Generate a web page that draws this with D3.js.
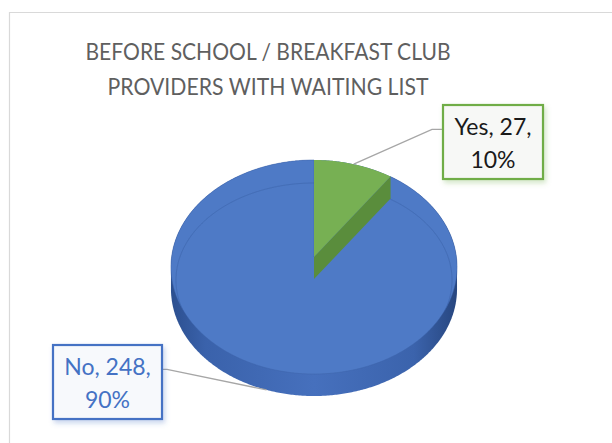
<!DOCTYPE html>
<html><head><meta charset="utf-8">
<script src="https://cdn.jsdelivr.net/npm/d3@7"></script>
<style>html,body{margin:0;padding:0;background:#fff;} svg{display:block;}</style>
</head><body><svg id="chart" width="612" height="443"></svg>
<script>
const categories = ["Yes", "No"];
const values = [27, 248];
const titleLines = ["BEFORE SCHOOL / BREAKFAST CLUB", "PROVIDERS WITH WAITING LIST"];

const W = 612, H = 443;
const FONT = "Lato, 'Open Sans', sans-serif";
const svg = d3.select("#chart");
const defs = svg.append("defs");

// chart area border (left + top visible)
svg.append("path").attr("d", "M9.5,443 V12.5 H612")
  .attr("fill", "none").attr("stroke", "#d9d9d9").attr("stroke-width", 1.2);

// title
const titleWidths = [365, 321];
svg.append("g").selectAll("text").data(titleLines).join("text")
  .attr("x", 268).attr("y", (d, i) => 60 + i * 35)
  .attr("text-anchor", "middle")
  .attr("font-family", FONT).attr("font-weight", 400)
  .attr("font-size", 23).attr("fill", "#5f5f5f")
  .attr("textLength", (d, i) => titleWidths[i]).attr("lengthAdjust", "spacingAndGlyphs")
  .text(d => d);

// perspective projection of the pie disk
const cx = 314, R = 142.4, y0 = 257, pb = -82.05, pc = 0.0935, depth = 22;
function proj(theta, r, dz = 0) {
  const X = r * Math.sin(theta), Z = r * Math.cos(theta);
  const den = 1 + pc * Z;
  return [cx + R * X / den, (y0 + pb * Z) / den + dz];
}
function arcPoints(a0, a1, r, dz) {
  const n = Math.max(2, Math.ceil((a1 - a0) / 0.01));
  return d3.range(n + 1).map(i => proj(a0 + (a1 - a0) * i / n, r, dz));
}
const line = d3.line();

const pie = d3.pie().sort(null).value(d => d).startAngle(0).endAngle(2 * Math.PI);
const arcs = pie(values);
const total = d3.sum(values);
const pct = d3.format(".0%");

const topColor = d3.scaleOrdinal().domain(categories).range(["#77b053", "#4e7ac6"]);
const sideColor = d3.scaleOrdinal().domain(categories).range(["#5a8d3c", "#3e66b0"]);
const labelColor = d3.scaleOrdinal().domain(categories).range(["#1a1a1a", "#4472c4"]);
const borderColor = d3.scaleOrdinal().domain(categories).range(["#70ad47", "#4472c4"]);

// wall gradient
const wg = defs.append("linearGradient").attr("id", "wallGrad")
  .attr("x1", "0%").attr("x2", "100%").attr("y1", "0%").attr("y2", "0%");
[[0, "#2c4f8f"], [0.12, "#3a62ab"], [0.5, "#4670bd"], [0.85, "#3b63ac"], [1, "#27467f"]]
  .forEach(([o, c]) => wg.append("stop").attr("offset", o).attr("stop-color", c));

// wall = hull of top and bottom ellipses
const hull = d3.polygonHull(arcPoints(0, 2 * Math.PI, 1, 0).concat(arcPoints(0, 2 * Math.PI, 1, depth)));
svg.append("path").attr("d", "M" + hull.join("L") + "Z").attr("fill", "url(#wallGrad)");

// top faces
function facePath(a) {
  const pts = [proj(0, 0, 0)].concat(arcPoints(a.startAngle, a.endAngle, 1, 0));
  return line(pts) + "Z";
}
const yesArc = arcs[0], noArc = arcs[1];

// blue top face
svg.append("path").attr("d", facePath(noArc)).attr("fill", topColor("No"))
  .attr("stroke", "#3d64a8").attr("stroke-width", 0.8).attr("stroke-opacity", 0.6);

// subtle inner line on top face (clipped to the blue face)
defs.append("clipPath").attr("id", "blueClip").append("path").attr("d", facePath(noArc));
const innerPts = d3.range(0, 2 * Math.PI + 0.01, 0.01).map(t => {
  const p = proj(t, 1, 0);
  return [cx + (p[0] - cx) * 0.965, 183 + (p[1] - 160) * 0.9065];
});
svg.append("path").attr("d", line(innerPts) + "Z").attr("fill", "none")
  .attr("stroke", "#3a5fa3").attr("stroke-opacity", 0.45).attr("stroke-width", 1)
  .attr("clip-path", "url(#blueClip)");

// green cut face along its end edge
const cut = [proj(yesArc.endAngle, 0, 0), proj(yesArc.endAngle, 1, 0),
             proj(yesArc.endAngle, 1, depth), proj(yesArc.endAngle, 0, depth)];
svg.append("path").attr("d", line(cut) + "Z").attr("fill", sideColor("Yes"));
// green top face
svg.append("path").attr("d", facePath(yesArc)).attr("fill", topColor("Yes"));

// label shadows
categories.forEach(c => {
  const f = defs.append("filter").attr("id", "sh" + c).attr("x", "-20%").attr("y", "-20%")
    .attr("width", "150%").attr("height", "150%");
  f.append("feDropShadow").attr("dx", 2).attr("dy", 3).attr("stdDeviation", 2.5)
    .attr("flood-color", borderColor(c)).attr("flood-opacity", 0.3);
});

// leader lines and labels
const labelBoxes = {
  Yes: {x: 443, y: 105, w: 100, h: 74, side: "left", dz: 0},
  No: {x: 53, y: 345, w: 109, h: 74, side: "right", dz: depth}
};
arcs.forEach((a, i) => {
  const c = categories[i];
  const b = labelBoxes[c];
  const mid = (a.startAngle + a.endAngle) / 2;
  const end = proj(mid, 1, b.dz);
  const ly = b.y + b.h * 0.33;
  const bx = b.side === "left" ? b.x : b.x + b.w;
  const kx = b.side === "left" ? bx - 11 : bx + 5;
  svg.append("path").attr("d", line([[bx, ly], [kx, ly], end]))
    .attr("fill", "none").attr("stroke", "#a6a6a6").attr("stroke-width", 1.3);
  const g = svg.append("g");
  g.append("rect").attr("x", b.x).attr("y", b.y).attr("width", b.w).attr("height", b.h)
    .attr("fill", c === "Yes" ? "#f7f8f6" : "#f7f9fc")
    .attr("stroke", borderColor(c)).attr("stroke-width", 2.2)
    .attr("filter", "url(#sh" + c + ")");
  const lines = [`${c}, ${values[i]},`, pct(values[i] / total)];
  g.selectAll("text").data(lines).join("text")
    .attr("x", b.x + b.w / 2).attr("y", (d, j) => b.y + 30 + j * 33)
    .attr("text-anchor", "middle").attr("font-family", FONT)
    .attr("font-size", 23).attr("fill", labelColor(c)).text(d => d);
});
</script></body></html>
